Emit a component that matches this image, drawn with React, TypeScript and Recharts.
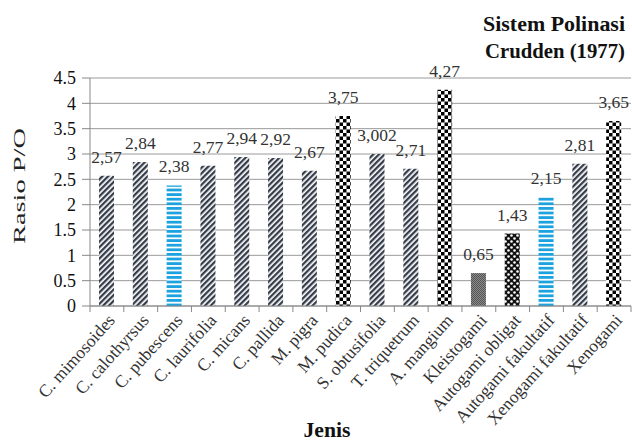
import React from 'react';
import { BarChart, Bar, XAxis, YAxis, CartesianGrid, Cell, LabelList } from 'recharts';

const categories = [
  'C. mimosoides', 'C. calothyrsus', 'C. pubescens', 'C. laurifolia', 'C. micans',
  'C. pallida', 'M. pigra', 'M. pudica', 'S. obtusifolia', 'T. triquetrum',
  'A. mangium', 'Kleistogami', 'Autogami obligat', 'Autogami fakultatif',
  'Xenogami fakultatif', 'Xenogami',
];
const values = [2.57, 2.84, 2.38, 2.77, 2.94, 2.92, 2.67, 3.75, 3.002, 2.71, 4.27, 0.65, 1.43, 2.15, 2.81, 3.65];
const systems = [
  'Xenogami fakultatif', 'Xenogami fakultatif', 'Autogami fakultatif', 'Xenogami fakultatif',
  'Xenogami fakultatif', 'Xenogami fakultatif', 'Xenogami fakultatif', 'Xenogami',
  'Xenogami fakultatif', 'Xenogami fakultatif', 'Xenogami', 'Kleistogami',
  'Autogami obligat', 'Autogami fakultatif', 'Xenogami fakultatif', 'Xenogami',
];
const yTicks = [0, 0.5, 1, 1.5, 2, 2.5, 3, 3.5, 4, 4.5];
const titleLines = ['Sistem Polinasi', 'Crudden (1977)'];
const yLabel = 'Rasio P/O';
const xLabel = 'Jenis';

const data = categories.map((name, i) => ({ name, value: values[i], system: systems[i] }));

const fillBySystem: Record<string, string> = {
  'Xenogami fakultatif': 'url(#pDiag)',
  'Autogami fakultatif': 'url(#pBlue)',
  'Xenogami': 'url(#pCheck)',
  'Kleistogami': 'url(#pGray)',
  'Autogami obligat': 'url(#pDots)',
};

const FONT = 'Liberation Serif';

const XTick = (props: any) => {
  const { x, y, payload, index } = props;
  const off = payload && typeof payload.offset === 'number' && payload.offset > 0 ? payload.offset : 16.9;
  return (
    <g>
      {index === 0 && <line x1={x - off} x2={x - off} y1={y} y2={y + 6} stroke="#888" />}
      <line x1={x + off} x2={x + off} y1={y} y2={y + 6} stroke="#888" />
      <text
        transform={`translate(${x + 9},${y + 15}) rotate(-48)`}
        textAnchor="end"
        fontSize={17.5}
        fontFamily={FONT}
        fill="#333"
      >
        {payload.value}
      </text>
    </g>
  );
};

const fmt = (v: any) => String(v).replace('.', ',');

export default function App() {
  return (
    <div style={{ position: 'absolute', left: 0, top: 0, width: 632, height: 442, background: '#fff', fontFamily: FONT }}>
      <svg width={0} height={0} style={{ position: 'absolute' }}>
        <defs>
          <pattern id="pDiag" width={4} height={4} patternUnits="userSpaceOnUse" patternTransform="rotate(45)">
            <rect width={4} height={4} fill="#fff" />
            <rect width={2.3} height={4} fill="#353c4a" />
          </pattern>
          <pattern id="pBlue" width={4} height={4.6} patternUnits="userSpaceOnUse">
            <rect width={4} height={4.6} fill="#fff" />
            <rect width={4} height={2.8} fill="#1ca2de" />
          </pattern>
          <pattern id="pCheck" width={7} height={7} patternUnits="userSpaceOnUse">
            <rect width={7} height={7} fill="#fff" />
            <rect width={3.5} height={3.5} fill="#000" />
            <rect x={3.5} y={3.5} width={3.5} height={3.5} fill="#000" />
          </pattern>
          <pattern id="pGray" width={2} height={2} patternUnits="userSpaceOnUse">
            <rect width={2} height={2} fill="#8a8a8a" />
            <rect width={1} height={1} fill="#555" />
            <rect x={1} y={1} width={1} height={1} fill="#555" />
          </pattern>
          <pattern id="pDots" width={6} height={6} patternUnits="userSpaceOnUse">
            <rect width={6} height={6} fill="#111" />
            <circle cx={1.5} cy={1.5} r={1.3} fill="#fff" />
            <circle cx={4.5} cy={4.5} r={1.3} fill="#fff" />
          </pattern>
        </defs>
      </svg>
      <BarChart
        width={632}
        height={442}
        data={data}
        margin={{ top: 78, right: 1, left: 30, bottom: 0 }}
        barSize={15}
        style={{ fontFamily: FONT }}
      >
        <CartesianGrid horizontal vertical={false} stroke="#9a9a9a" />
        <XAxis
          dataKey="name"
          interval={0}
          height={136}
          tickLine={false}
          tickSize={0}
          tickMargin={0}
          axisLine={{ stroke: '#888' }}
          tick={<XTick />}
        />
        <YAxis
          width={60}
          domain={[0, 4.5]}
          ticks={yTicks}
          interval={0}
          tickSize={8}
          tickMargin={6}
          axisLine={{ stroke: '#888' }}
          tickLine={{ stroke: '#888' }}
          tick={{ fontSize: 18, fill: '#111', fontFamily: FONT }}
          tickFormatter={(v: number) => String(v)}
        />
        <Bar dataKey="value" isAnimationActive={false}>
          {data.map((d, i) => (
            <Cell key={i} fill={fillBySystem[d.system]} />
          ))}
          <LabelList
            dataKey="value"
            position="top"
            offset={13}
            formatter={fmt}
            style={{ fontSize: 17.5, fill: '#333', fontFamily: FONT }}
          />
        </Bar>
      </BarChart>
      <svg width={632} height={442} style={{ position: 'absolute', left: 0, top: 0, pointerEvents: 'none' }}>
        <text x={625} y={31} textAnchor="end" fontSize={20} fontWeight="bold" fontFamily={FONT} fill="#111"
          textLength={142} lengthAdjust="spacingAndGlyphs">{titleLines[0]}</text>
        <text x={625} y={58} textAnchor="end" fontSize={20} fontWeight="bold" fontFamily={FONT} fill="#111"
          textLength={140} lengthAdjust="spacingAndGlyphs">{titleLines[1]}</text>
        <text transform="translate(25,186) rotate(-90)" textAnchor="middle" fontSize={17} fontFamily={FONT} fill="#222"
          textLength={116} lengthAdjust="spacingAndGlyphs">{yLabel}</text>
        <text x={327} y={437} textAnchor="middle" fontSize={20} fontWeight="bold" fontFamily={FONT} fill="#111"
          textLength={47} lengthAdjust="spacingAndGlyphs">{xLabel}</text>
      </svg>
    </div>
  );
}
